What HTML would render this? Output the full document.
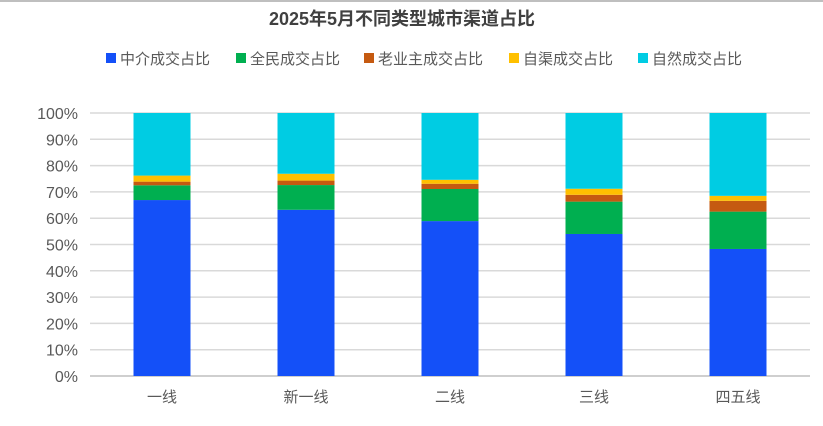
<!DOCTYPE html>
<html><head><meta charset="utf-8"><style>
body{margin:0;background:#fff;}
svg text{font-family:"Liberation Sans","Noto Sans CJK SC",sans-serif;}
</style></head><body>
<svg width="823" height="421" viewBox="0 0 823 421">
<rect x="0" y="0" width="823" height="2" fill="#bfbfbf"/>
<text x="402" y="25" text-anchor="middle" font-size="18" font-weight="bold" fill="#404040">2025年5月不同类型城市渠道占比</text>
<g id="legend"></g>
<g id="grid"></g>
<g id="bars"></g>
<g id="ylab"></g>
<g id="xlab"></g>
</svg>
<script>
const categories=["一线","新一线","二线","三线","四五线"];
const seriesNames=["中介成交占比","全民成交占比","老业主成交占比","自渠成交占比","自然成交占比"];
const agent=[66.9,63.2,58.9,54.0,48.3];
const referral=[5.6,9.4,12.2,12.3,14.2];
const owner=[1.4,1.7,2.0,2.6,4.1];
const selfCh=[2.3,2.6,1.5,2.3,1.9];
const natural=[23.8,23.1,25.4,28.8,31.5];
const yTicks=[0,10,20,30,40,50,60,70,80,90,100];
const colors=["#1450F8","#00AF50","#C55A11","#FFC000","#00CCE3"];
const series=[agent,referral,owner,selfCh,natural];
const NS="http://www.w3.org/2000/svg";
const y0=376,y1=113,xL=90,xR=810;
const yS=v=>y0-(y0-y1)*v/100;
const band=(xR-xL)/categories.length;
const xC=i=>xL+band*(i+0.5);
const bw=57;
function mk(t,a,p){const e=document.createElementNS(NS,t);for(const k in a)e.setAttribute(k,a[k]);p.appendChild(e);return e;}
const grid=document.getElementById('grid'),ylab=document.getElementById('ylab');
yTicks.forEach(v=>{
 const l=mk('line',{x1:xL,x2:xR,y1:yS(v),y2:yS(v),stroke:v===0?'#bfbfbf':'#d9d9d9','stroke-width':1.5},grid);
 
 
 const t=mk('text',{x:78,y:yS(v)+6,'text-anchor':'end','font-size':16,fill:'#595959'},ylab);
 t.textContent=v+'%';
 
 
});
const bars=document.getElementById('bars'),xlab=document.getElementById('xlab');
categories.forEach((c,i)=>{
 let acc=0;
 series.forEach((s,j)=>{
  const r=mk('rect',{x:xC(i)-bw/2,y:yS(acc+s[i]),width:bw,height:yS(acc)-yS(acc+s[i]),fill:colors[j]},bars);
  
  
  acc+=s[i];
 });
 const t=mk('text',{x:xC(i),y:402,'text-anchor':'middle','font-size':15,fill:'#595959'},xlab);
 t.textContent=c;
 
 
});
const lg=document.getElementById('legend');
const lx=[106,236,364,509,638];
seriesNames.forEach((n,j)=>{
 const r=mk('rect',{x:lx[j],y:53,width:10,height:10,fill:colors[j]},lg);
 
 
 const t=mk('text',{x:lx[j]+14,y:64,'font-size':15,fill:'#595959'},lg);
 t.textContent=n;
 
 
});
</script>
</body></html>
